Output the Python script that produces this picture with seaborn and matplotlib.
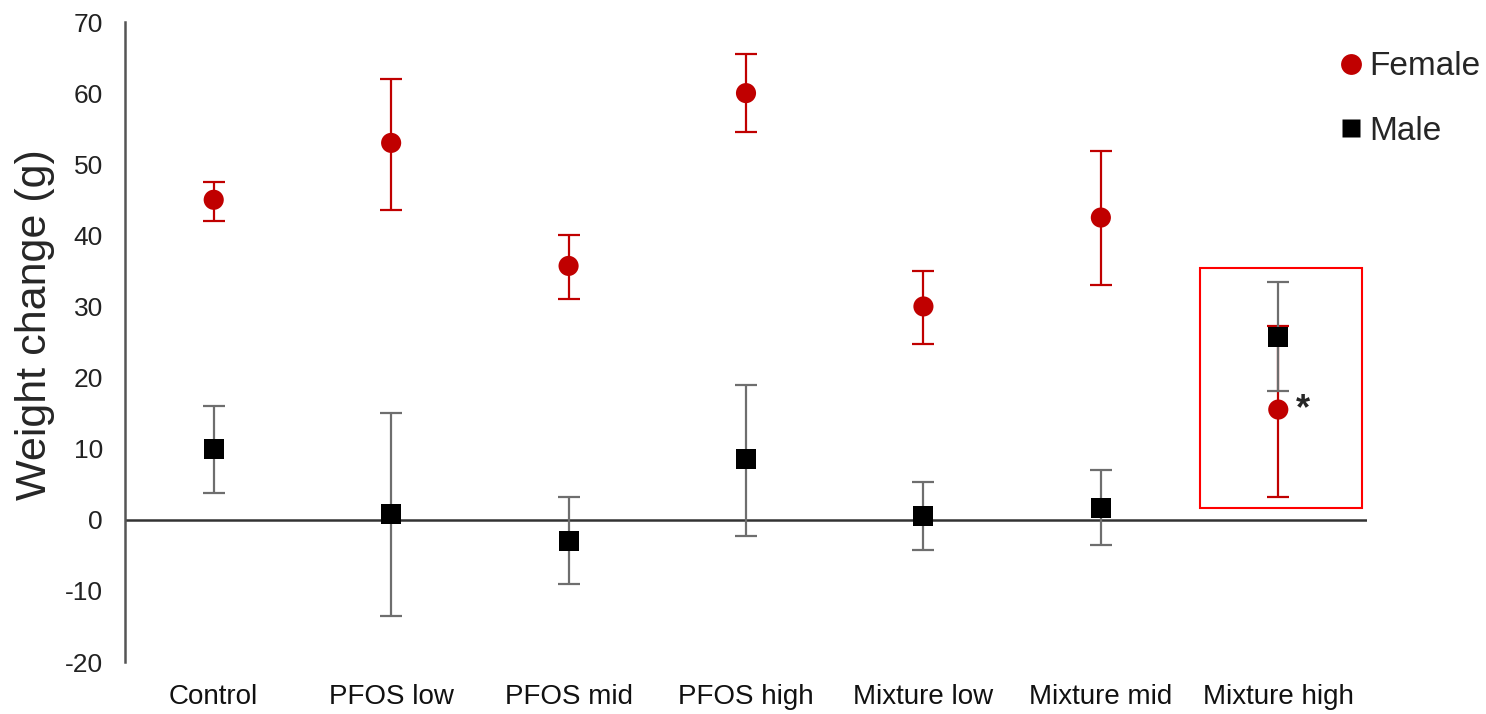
import matplotlib
matplotlib.use("Agg")
import matplotlib.pyplot as plt
import seaborn as sns
import pandas as pd
from matplotlib.patches import Rectangle
from matplotlib.lines import Line2D

categories = ["Control", "PFOS low", "PFOS mid", "PFOS high", "Mixture low", "Mixture mid", "Mixture high"]
female_mean = [45.0, 53.0, 35.7, 60.0, 30.0, 42.5, 15.5]
female_low = [42.0, 43.5, 31.0, 54.5, 24.7, 33.0, 3.2]
female_high = [47.5, 62.0, 40.0, 65.5, 35.0, 51.8, 27.3]
male_mean = [10.0, 0.8, -3.0, 8.5, 0.5, 1.7, 25.7]
male_low = [3.8, -13.5, -9.0, -2.3, -4.3, -3.5, 18.1]
male_high = [16.0, 15.0, 3.2, 19.0, 5.3, 7.0, 33.4]
y_ticks = [-20, -10, 0, 10, 20, 30, 40, 50, 60, 70]

sns.set_style("white")
plt.rcParams['font.family'] = ['Liberation Sans', 'DejaVu Sans']

fig = plt.figure(figsize=(14.86, 7.14), dpi=100)
ax = fig.add_axes([125/1486, 52/714, (1367-125)/1486, (662-22)/714])

red = "#c00000"
black = "#000000"
gray = "#6e6e6e"

df = pd.DataFrame({
    "group": categories * 2,
    "value": female_mean + male_mean,
    "sex": ["Female"] * 7 + ["Male"] * 7,
})
xpos = list(range(len(categories)))

ax.axhline(0, color="#333333", lw=1.8, zorder=1)

# Error bars
ax.errorbar(xpos, female_mean,
            yerr=[[m - l for m, l in zip(female_mean, female_low)],
                  [h - m for m, h in zip(female_mean, female_high)]],
            fmt="none", ecolor=red, elinewidth=1.6, capsize=8, capthick=1.6, zorder=2)
ax.errorbar(xpos, male_mean,
            yerr=[[m - l for m, l in zip(male_mean, male_low)],
                  [h - m for m, h in zip(male_mean, male_high)]],
            fmt="none", ecolor=gray, elinewidth=1.6, capsize=8, capthick=1.6, zorder=2)

sns.scatterplot(data=df, x="group", y="value", hue="sex", style="sex",
                palette={"Female": red, "Male": black},
                markers={"Female": "o", "Male": "s"},
                s=210, edgecolor="none", linewidth=0, ax=ax, legend=False, zorder=3)

ax.set_xlim(-0.5, 6.5)
ax.set_ylim(-20, 70)
ax.set_yticks(y_ticks)
ax.set_yticklabels([str(t) for t in y_ticks], fontsize=19, color="#222222")
ax.set_xticks(xpos)
ax.set_xticklabels(categories, fontsize=20, color="#111111")
ax.tick_params(axis="both", length=0)
ax.tick_params(axis="x", pad=16)
ax.tick_params(axis="y", pad=16)
ax.set_xlabel("")
ax.set_ylabel("Weight change (g)", fontsize=31)
ax.yaxis.set_label_coords(-0.056, 0.527)

for s in ["top", "right", "bottom"]:
    ax.spines[s].set_visible(False)
ax.spines["left"].set_color("#555555")
ax.spines["left"].set_linewidth(1.8)

# Highlight box and significance mark
ax.add_patch(Rectangle((5.557, 1.7), 0.913, 33.7, fill=False, edgecolor="#ff0000", lw=1.5, zorder=4))
ax.text(6.14, 15.5, "*", fontsize=26, fontweight="bold", ha="center", va="center", zorder=5)

handles = [
    Line2D([0], [0], marker="o", color="none", markerfacecolor=red, markeredgecolor="none", markersize=15),
    Line2D([0], [0], marker="s", color="none", markerfacecolor=black, markeredgecolor="none", markersize=13),
]
ax.legend(handles, ["Female", "Male"], loc="upper left", bbox_to_anchor=(0.9615, 0.975),
          frameon=False, fontsize=24, handletextpad=0.0, handlelength=1.1, labelspacing=1.0,
          borderaxespad=0)

fig.savefig("out.png", dpi=100)
